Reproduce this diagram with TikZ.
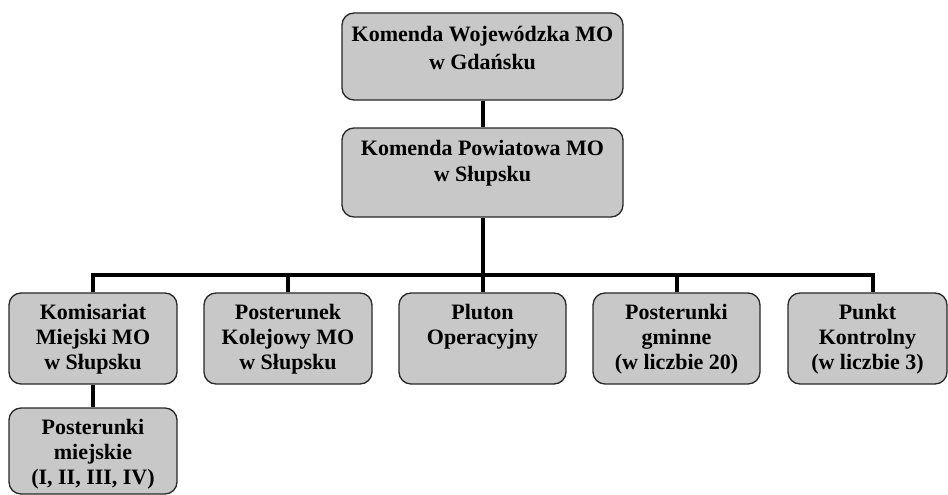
\documentclass[tikz,border=0pt]{standalone}
\usepackage{fontspec}
\setmainfont{Liberation Serif}
\definecolor{boxgray}{RGB}{200,200,200}
\definecolor{edgegray}{RGB}{40,40,40}
\newcommand\bxt[4]{\parbox[c][#2][t]{#1}{\centering\fontsize{22}{#3}\selectfont\bfseries\vspace*{9pt}\strut #4}}
\tikzset{
  orgbox/.style={draw=edgegray, line width=1.3pt, fill=boxgray, rounded corners=12pt, inner sep=0pt},
  conn/.style={line width=4pt, black}
}
\begin{document}
\begin{tikzpicture}[x=1pt,y=-1pt]
\useasboundingbox (0,0) rectangle (948,495);
\node[orgbox] (kw) at (482.5,56.5) {\bxt{281pt}{87pt}{28pt}{Komenda Wojewódzka MO\\ w Gdańsku}};
\node[orgbox] (kp) at (482.5,172.5) {\bxt{281pt}{89pt}{26pt}{Komenda Powiatowa MO\\ w Słupsku}};
\node[orgbox] (c1) at (93,338.5) {\bxt{168pt}{91pt}{25pt}{Komisariat\\ Miejski MO\\ w Słupsku}};
\node[orgbox] (c2) at (288,338.5) {\bxt{168pt}{91pt}{25pt}{Posterunek\\ Kolejowy MO\\ w Słupsku}};
\node[orgbox] (c3) at (482.5,338.5) {\bxt{167pt}{91pt}{25pt}{Pluton\\ Operacyjny}};
\node[orgbox] (c4) at (676.5,338.5) {\bxt{167pt}{91pt}{25pt}{Posterunki\\ gminne\\ (w liczbie 20)}};
\node[orgbox] (c5) at (867.5,338.5) {\bxt{159pt}{91pt}{25pt}{Punkt\\ Kontrolny\\ (w liczbie 3)}};
\node[orgbox] (pm) at (93,451) {\bxt{168pt}{86pt}{25pt}{Posterunki\\ miejskie\\ (I, II, III, IV)}};
\coordinate (bar) at (0,275);
\draw[conn] (kw.south) -- (kp.north);
\draw[conn] (kp.south) -- (kp.south |- bar);
\draw[conn] (c1.north) -- (c1.north |- bar) -- ([xshift=5pt]c5.north |- bar) -- ([xshift=5pt]c5.north);
\draw[conn] (c2.north) -- (c2.north |- bar);
\draw[conn] (c3.north) -- (c3.north |- bar);
\draw[conn] (c4.north) -- (c4.north |- bar);
\draw[conn] (c1.south) -- (pm.north);
\end{tikzpicture}
\end{document}
